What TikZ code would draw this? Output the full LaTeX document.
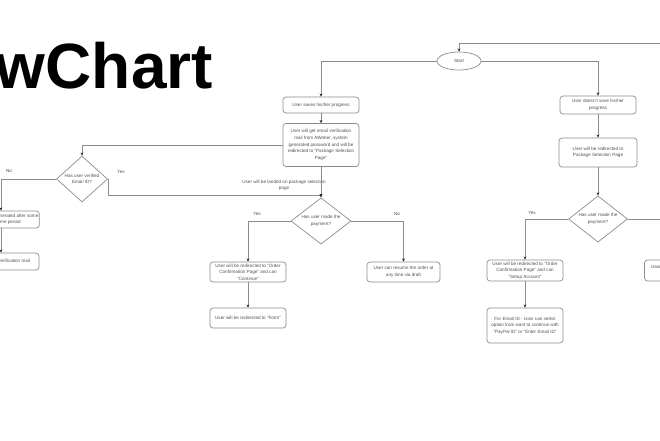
\documentclass[tikz,border=0pt]{standalone}
\usepackage{fontspec}
\setmainfont{Liberation Sans}
\usetikzlibrary{arrows.meta,shapes.geometric}
\definecolor{linegray}{HTML}{8C8C8C}
\definecolor{txtgray}{HTML}{505050}
\newcommand{\chartfont}{\fontsize{4.6}{6.6}\selectfont}
\tikzset{
  line/.style={draw=linegray, line width=0.7pt},
  flow/.style={line, -{Stealth[length=3.2pt,width=2.8pt,color=black!85]}},
  box/.style={draw=linegray, line width=0.7pt, rounded corners=3pt,
    text=txtgray, font=\chartfont, align=center, inner sep=1pt,
    minimum width=76pt},
  decision/.style={draw=linegray, line width=0.7pt, diamond, aspect=1.1,
    text=txtgray, font=\chartfont, align=center, inner sep=0pt},
  tag/.style={text=txtgray, font=\chartfont, inner sep=0pt}
}

\begin{document}
\begin{tikzpicture}[x=1pt, y=-1pt]
  \useasboundingbox (0,0) rectangle (660,440);
  %\draw[red] (0,0) rectangle (660,440);

  % Title, cut by the left edge
  \node[anchor=base east, inner sep=0pt, font=\fontsize{64}{64}\bfseries\selectfont]
    (title) at (213,88) {FlowChart};

  % Start and the two branches
  \node[draw=linegray, line width=0.7pt, ellipse, minimum width=44pt,
    minimum height=18pt, inner sep=0pt, text=txtgray, font=\chartfont]
    (start) at (459,61) {Start};
  \coordinate (topin) at (670,43);
  \node[box, minimum height=16pt] (saves) at (321,105) {User saves his/her progress};
  \node[box, minimum height=18pt] (nosave) at (598,105)
    {User doesn't save his/her\\progress};

  % Left branch
  \node[box, minimum height=43pt] (email) at (321,145)
    {User will get email verification\\mail from AWeber, system\\generated password and will be\\redirected to "Package Selection\\Page"};
  \node[decision, minimum width=51pt, minimum height=46pt] (verified) at (82,179)
    {Has user verified\\Email ID?};
  \node[box, minimum height=17pt] (regen) at (1,219.5)
    {Email will be regenerated after some\\specific time period};
  \node[box, minimum height=17pt] (resent) at (1,261.5)
    {User will get verification mail};
  \coordinate (landing) at (321,195);
  \node[tag, align=center] (landtxt) at (284,185.5)
    {User will be landed on package selection\\page};

  \node[decision, minimum width=60pt, minimum height=44pt] (pay1) at (321,221)
    {Has user made the\\payment?};
  \node[box, minimum height=20pt] (conf1) at (248,272)
    {User will be redirected to "Order\\Confirmation Page" and can\\"Continue"};
  \node[box, minimum height=20pt, minimum width=73pt] (draft1) at (403.5,272)
    {User can resume the order at\\any time via draft};
  \node[box, minimum height=20pt] (form) at (248,318)
    {User will be redirected to "Form"};

  % Right branch
  \node[box, minimum height=29pt, minimum width=78pt] (pkg) at (598,152.5)
    {User will be redirected to\\Package Selection Page};
  \node[decision, minimum width=59pt, minimum height=46pt] (pay2) at (598,219)
    {Has user made the\\payment?};
  \node[box, minimum height=21pt] (conf2) at (525,270.5)
    {User will be redirected to "Order\\Confirmation Page" and can\\"Setup Account"};
  \node[box, minimum height=35pt] (paypal) at (525,325.5)
    {For Email ID - User can select\\option from want to continue with\\"PayPal ID" or "Enter Email ID"};
  \node[box, minimum height=21pt, minimum width=73pt] (draft2) at (681,270.5)
    {User can resume the order at\\any time via draft};

  % Labels
  \node[tag] (no0) at (9,171) {No};
  \node[tag] (yes0) at (121,172) {Yes};
  \node[tag] (yes1) at (257,214) {Yes};
  \node[tag] (no1) at (397,214) {No};
  \node[tag] (yes2) at (532,213) {Yes};

  % Connectors
  \draw[flow] (topin) -| (start.north);
  \draw[flow] (start.west) -| (saves.north);
  \draw[flow] (start.east) -| (nosave.north);
  \draw[flow] (saves) -- (email);
  \draw[flow] (email.west) -| (verified.north);
  \draw[flow] (verified.west) -| (regen.north);
  \draw[flow] (regen) -- (resent);
  \draw[line] (verified.east) |- (landing);
  \draw[flow] (email) -- (pay1);
  \fill[black!85] (landing) circle (1.3pt);
  \draw[flow] (pay1.west) -| (conf1.north);
  \draw[flow] (pay1.east) -| (draft1.north);
  \draw[flow] (conf1) -- (form);
  \draw[flow] (nosave) -- (pkg);
  \draw[flow] (pkg) -- (pay2);
  \draw[flow] (pay2.west) -| (conf2.north);
  \draw[flow] (conf2) -- (paypal);
  \draw[flow] (pay2.east) -| (draft2.north);
\end{tikzpicture}
\end{document}
